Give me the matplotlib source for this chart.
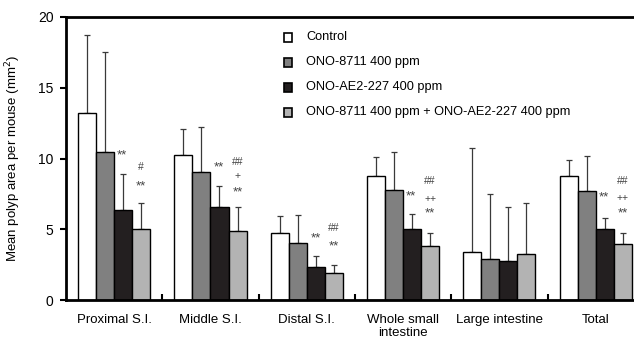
import numpy as np
import matplotlib
matplotlib.use("Agg")
from matplotlib import pyplot as plt
from matplotlib.patches import Rectangle

plt.rcParams['font.family'] = ['Liberation Sans', 'DejaVu Sans']

groups = ["Proximal S.I.", "Middle S.I.", "Distal S.I.", "Whole small\nintestine",
          "Large intestine", "Total"]
series = ["Control", "ONO-8711 400 ppm", "ONO-AE2-227 400 ppm",
          "ONO-8711 400 ppm + ONO-AE2-227 400 ppm"]

control = [13.25, 10.27, 4.71, 8.79, 3.42, 8.76]
control_sd = [5.48, 1.79, 1.25, 1.31, 7.32, 1.14]
ono8711 = [10.48, 9.07, 4.00, 7.77, 2.87, 7.72]
ono8711_sd = [7.02, 3.13, 2.00, 2.71, 4.60, 2.48]
onoae2 = [6.36, 6.60, 2.31, 5.02, 2.78, 5.00]
onoae2_sd = [2.54, 1.46, 0.79, 1.03, 3.82, 0.82]
combo = [5.02, 4.90, 1.93, 3.82, 3.23, 3.93]
combo_sd = [1.81, 1.65, 0.52, 0.89, 3.65, 0.78]

colors = ["white", "#808080", "#231f20", "#b3b3b3"]

# significance marks: (group, bar index, text, y)
marks = [
    (0, 1, "**", 10.53), (0, 3, "#", 9.4), (0, 3, "**", 8.36),
    (1, 1, "**", 9.65), (1, 3, "##", 9.77), (1, 3, "+", 8.78), (1, 3, "**", 7.94),
    (2, 2, "**", 4.66), (2, 3, "##", 5.11), (2, 3, "**", 4.12),
    (3, 1, "**", 7.65), (3, 3, "##", 8.43), (3, 3, "++", 7.14), (3, 3, "**", 6.43),
    (5, 1, "**", 7.58), (5, 3, "##", 8.41), (5, 3, "++", 7.21), (5, 3, "**", 6.43),
]

fig = plt.figure(figsize=(6.34, 3.39), dpi=100)
ax = fig.add_axes([66 / 634, 39 / 339, 568 / 634, 283 / 339])

w = 0.1875
x = np.arange(len(groups))
data = [(control, control_sd), (ono8711, ono8711_sd), (onoae2, onoae2_sd), (combo, combo_sd)]
for k, (vals, sds) in enumerate(data):
    xs = x + 0.125 + w * (k + 0.5)
    ax.bar(xs, vals, w, color=colors[k], edgecolor="black", linewidth=1.0, zorder=2)
    ax.errorbar(xs, vals, yerr=[np.zeros(len(vals)), sds], fmt="none",
                ecolor="#3a3a3a", elinewidth=0.9, capsize=2, capthick=0.9, zorder=1)

for g, b, t, yv in marks:
    if b == 1:
        xp = g + 0.125 + w * 2 + 0.03
        ha = "left"
    else:
        xp = g + 0.125 + w * (b + 0.5)
        ha = "center"
    if t == "**":
        # asterisks sit high in the glyph box, so anchor on the baseline
        ax.annotate(t, (xp, yv), xytext=(0, -5.3), textcoords="offset points",
                    ha=ha, va="baseline", fontsize=9.5, color="#444444")
    else:
        ax.text(xp, yv, t, ha=ha, va="center", fontsize=7.5, color="#444444")

ax.set_xlim(0, 568 / 96.3)
ax.set_ylim(0, 20)
ax.set_yticks([0, 5, 10, 15, 20])
ax.set_xticks(x + 0.5)
ax.set_xticklabels(groups, fontsize=9.5, linespacing=1.1)
ax.set_xticks(np.arange(1, 6), minor=True)
ax.tick_params(axis="x", which="major", length=0, pad=10)
ax.tick_params(axis="x", which="minor", direction="in", length=4, width=1.5)
ax.tick_params(axis="y", direction="out", length=4, width=1.5, labelsize=10, pad=5)
for s in ["left", "bottom", "top"]:
    ax.spines[s].set_linewidth(2)
ax.spines["right"].set_visible(False)
ax.set_ylabel("Mean polyp area per mouse (mm$^2$)", fontsize=9.5, labelpad=11)

# legend drawn by hand as squares + text
for k, name in enumerate(series):
    yl = 0.929 - k * 0.0883
    ax.add_patch(Rectangle((0.384, yl - 0.016), 0.0145, 0.032, transform=ax.transAxes,
                           facecolor=colors[k], edgecolor="black", linewidth=1.2,
                           clip_on=False, zorder=3))
    ax.text(0.4225, yl, name, transform=ax.transAxes, va="center", fontsize=9.2)

fig.savefig("out.png", dpi=100)
